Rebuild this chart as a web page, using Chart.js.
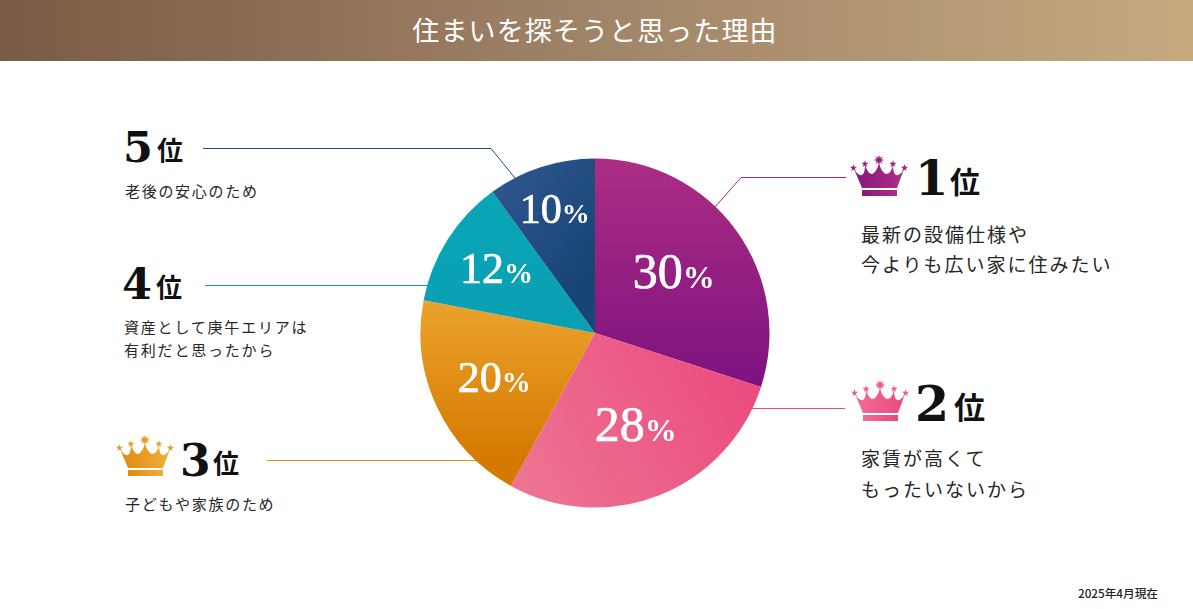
<!DOCTYPE html>
<html lang="ja">
<head>
<meta charset="utf-8">
<title>住まいを探そうと思った理由</title>
<script src="https://cdn.jsdelivr.net/npm/chart.js@4"></script>
<style>
    html, body { margin: 0; padding: 0; background: #fff; }
    body { position: relative; width: 1193px; height: 609px; overflow: hidden; font-family: "Noto Sans CJK JP", sans-serif; color: #222; }
    .header { position: absolute; left: 0; top: 0; width: 1193px; height: 61px; line-height: 60px; text-align: center; color: #fff; font-size: 27px; letter-spacing: 1.1px; text-indent: -3px; background: linear-gradient(90deg, #7a5b45 0%, #a08468 50%, #c5aa80 100%); }
    #pie { position: absolute; left: 420px; top: 158px; }
    #overlay { position: absolute; left: 0; top: 0; }
    .rank { position: absolute; white-space: nowrap; color: #111; font-weight: 700; line-height: 1; }
    .rank.num { font-family: "DejaVu Serif", serif; }
    .desc { position: absolute; white-space: pre; color: #262626; }
    .note { position: absolute; left: 1078px; top: 585px; font-size: 11.7px; font-weight: 500; color: #222; line-height: 16px; }
</style>
</head>
<body>
<div class="header">住まいを探そうと思った理由</div>
<svg id="overlay" width="1193" height="609" xmlns="http://www.w3.org/2000/svg"><defs id="defs"></defs></svg>
<canvas id="pie" width="350" height="350"></canvas>
<div class="note">2025年4月現在</div>
<script>
// グラフのデータ
const ranks = ['1', '2', '3', '4', '5'];
const categories = ['最新の設備仕様や\n今よりも広い家に住みたい', '家賃が高くて\nもったいないから', '子どもや家族のため', '資産として庚午エリアは\n有利だと思ったから', '老後の安心のため'];
const shares = [30, 28, 20, 12, 10];

// 扇形ごとのグラデーション (x0, y0, x1, y1 はキャンバス座標)
const sliceGradients = [
    { line: [175, 0, 175, 230], stops: ['#ac2d84', '#7d127f'] },
    { line: [110, 340, 340, 210], stops: ['#ee7392', '#ea4a7e'] },
    { line: [0, 140, 0, 300], stops: ['#eba42e', '#d67900'] },
    { line: [0, 40, 0, 180], stops: ['#09a6b6', '#0a9fb3'] },
    { line: [70, 20, 175, 100], stops: ['#30568f', '#174676'] }
];

// ラベルの半径と文字サイズ
const labelRadius = [101, 100, 109, 119, 130];
const labelShift = [[-3, -1], [4, 0], [-2, -1], [2, 1], [0, 1]];
const labelSize = [50, 50, 44, 44, 42];
const percentSize = [32, 32, 29, 29, 28];

// 吹き出しのレイアウト
const callouts = [
    { color: '#a02c85', line: '715,207 741,177.5 846,177.5', crown: [850, 155], crownStops: ['#86187f', '#ad2e85'], num: [915, 154, 48], kanji: [950, 165, 30], desc: [861, 219, 19, 30, 2] },
    { color: '#ea4a80', line: '752,408.5 845,408.5', crown: [851, 380], crownStops: ['#ee6f92', '#e94a7f'], num: [915, 379.5, 49], kanji: [954, 390, 31], desc: [861, 442, 19, 31, 2] },
    { color: '#e0900c', line: '267,460.5 476,460.5', crown: [116, 435], crownStops: ['#e08a10', '#f0ae3c'], num: [180, 439, 44], kanji: [213, 449, 26], desc: [125, 492, 15, 23, 1.7] },
    { color: '#1f9cb2', line: '205,285.5 428,285.5', crown: null, num: [122, 262.5, 43], kanji: [156, 273, 26], desc: [124, 315, 15, 23, 1.8] },
    { color: '#1d4c80', line: '203,148.5 491,148.5 515,178', crown: null, num: [123, 125.5, 43], kanji: [157, 136, 26], desc: [125, 179, 15, 23, 1.7] }
];

// 星の形を作る
function starPoints(cx, cy, outer, inner, count) {
    const pts = [];
    for (let i = 0; i < count * 2; i++) {
        const r = i % 2 === 0 ? outer : inner;
        const a = -Math.PI / 2 + i * Math.PI / count;
        pts.push((cx + r * Math.cos(a)).toFixed(1) + ',' + (cy + r * Math.sin(a)).toFixed(1));
    }
    return pts.join(' ');
}

// 王冠を描く
function addCrown(svg, defs, index, pos, stops) {
    const id = 'crownFill' + index;
    defs.innerHTML += '<linearGradient id="' + id + '" x1="0" y1="0" x2="1" y2="0">' +
        '<stop offset="0" stop-color="' + stops[0] + '"/><stop offset="1" stop-color="' + stops[1] + '"/></linearGradient>';
    const fill = 'url(#' + id + ')';
    let html = '<g transform="translate(' + pos[0] + ' ' + pos[1] + ')">';
    html += '<path fill="' + fill + '" d="M4 14 Q8 21 12 20 Q15 18 15 10 Q18 19 22 19 Q27 17 29 8 Q31 17 36 19 Q41 19 43 10 Q43 18 46 20 Q50 21 54 14 L47 33 L12 33 Z"/>';
    html += '<rect x="12" y="35" width="35" height="6" fill="' + fill + '"/>';
    html += '<polygon fill="' + fill + '" points="' + starPoints(29, 5, 5.2, 2.4, 8) + '"/>';
    html += '<polygon fill="' + fill + '" points="' + starPoints(15, 9, 3.8, 1.5, 5) + '"/>';
    html += '<polygon fill="' + fill + '" points="' + starPoints(43, 9, 3.8, 1.5, 5) + '"/>';
    html += '<polygon fill="' + fill + '" points="' + starPoints(3.5, 13, 3.8, 1.5, 5) + '"/>';
    html += '<polygon fill="' + fill + '" points="' + starPoints(54.5, 13, 3.8, 1.5, 5) + '"/>';
    html += '</g>';
    svg.insertAdjacentHTML('beforeend', html);
}

// 順位と説明文を配置
function buildCallouts() {
    const svg = document.getElementById('overlay');
    const defs = document.getElementById('defs');
    callouts.forEach(function (c, i) {
        svg.insertAdjacentHTML('beforeend', '<polyline fill="none" stroke="' + c.color + '" stroke-width="1" points="' + c.line + '"/>');
        if (c.crown) {
            addCrown(svg, defs, i, c.crown, c.crownStops);
        }
        const num = document.createElement('div');
        num.className = 'rank num';
        num.textContent = ranks[i];
        num.style.cssText = 'left:' + c.num[0] + 'px;top:' + c.num[1] + 'px;font-size:' + c.num[2] + 'px';
        document.body.appendChild(num);

        const kanji = document.createElement('div');
        kanji.className = 'rank';
        kanji.textContent = '位';
        kanji.style.cssText = 'left:' + c.kanji[0] + 'px;top:' + c.kanji[1] + 'px;font-size:' + c.kanji[2] + 'px';
        document.body.appendChild(kanji);

        const desc = document.createElement('div');
        desc.className = 'desc';
        desc.textContent = categories[i];
        desc.style.cssText = 'left:' + c.desc[0] + 'px;top:' + c.desc[1] + 'px;font-size:' + c.desc[2] + 'px;line-height:' + c.desc[3] + 'px;letter-spacing:' + c.desc[4] + 'px';
        document.body.appendChild(desc);
    });
}

// 扇形の上に割合を描く
const percentLabels = {
    id: 'percentLabels',
    afterDatasetsDraw(chart) {
        const ctx = chart.ctx;
        chart.getDatasetMeta(0).data.forEach(function (arc, i) {
            const mid = (arc.startAngle + arc.endAngle) / 2;
            const x = arc.x + Math.cos(mid) * labelRadius[i] + labelShift[i][0];
            const y = arc.y + Math.sin(mid) * labelRadius[i] + labelShift[i][1];
            const numFont = labelSize[i] + 'px "Liberation Serif", serif';
            const pctFont = 'bold ' + percentSize[i] + 'px "Liberation Serif", serif';
            const text = String(shares[i]);
            ctx.save();
            ctx.fillStyle = '#fff';
            ctx.strokeStyle = '#fff';
            ctx.lineWidth = 0.7;
            ctx.textBaseline = 'alphabetic';
            ctx.textAlign = 'left';
            ctx.font = numFont;
            const numWidth = ctx.measureText(text).width;
            ctx.font = pctFont;
            const pctWidth = ctx.measureText('%').width;
            const left = x - (numWidth + pctWidth) / 2;
            const base = y + labelSize[i] * 0.3;
            ctx.font = numFont;
            ctx.fillText(text, left, base);
            ctx.strokeText(text, left, base);
            ctx.font = pctFont;
            ctx.fillText('%', left + numWidth, base);
            ctx.restore();
        });
    }
};

function sliceColors(ctx) {
    return sliceGradients.map(function (g) {
        const grad = ctx.createLinearGradient(g.line[0], g.line[1], g.line[2], g.line[3]);
        grad.addColorStop(0, g.stops[0]);
        grad.addColorStop(1, g.stops[1]);
        return grad;
    });
}

buildCallouts();

const pieCtx = document.getElementById('pie').getContext('2d');
new Chart(pieCtx, {
    type: 'pie',
    data: {
        labels: categories,
        datasets: [{
            data: shares,
            backgroundColor: sliceColors(pieCtx),
            borderWidth: 0,
            hoverOffset: 0
        }]
    },
    options: {
        responsive: false,
        animation: false,
        layout: { padding: 0.5 },
        plugins: {
            legend: { display: false },
            tooltip: { enabled: false },
            title: { display: false }
        }
    },
    plugins: [percentLabels]
});
</script>
</body>
</html>
